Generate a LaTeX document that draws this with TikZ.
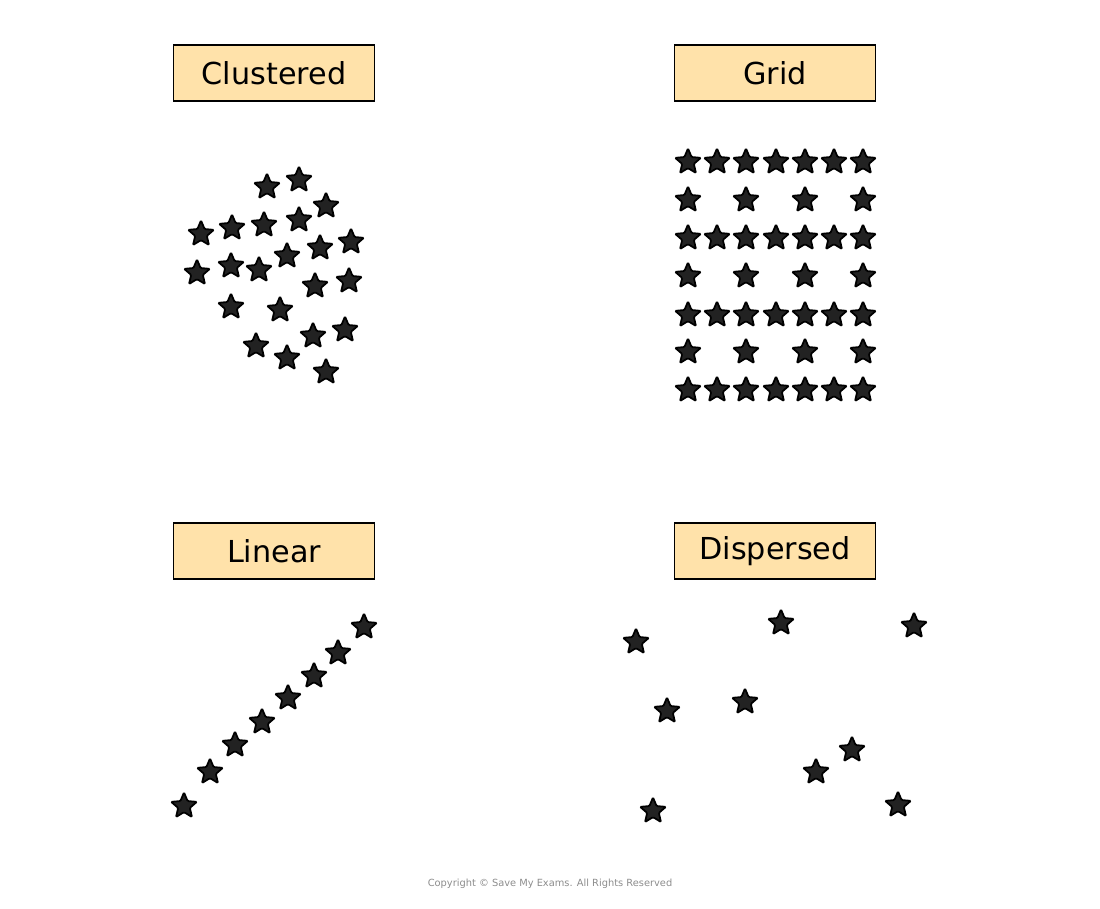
\documentclass[tikz,border=0pt]{standalone}
\usepackage{fontspec}
\setmainfont{DejaVu Sans}
\usetikzlibrary{shapes.geometric}
\definecolor{boxfill}{HTML}{FFE2AA}
\definecolor{starfill}{HTML}{222222}
\tikzset{
  title/.style={draw=black,fill=boxfill,minimum width=2.01cm,minimum height=0.56cm,inner sep=0pt,font=\fontsize{8.6}{10}\selectfont},
  pt/.style={star,star points=5,star point ratio=2.2,minimum size=0.27cm,inner sep=0pt,draw=black,fill=starfill,line width=0.5pt,rounded corners=0.3pt}
}
\begin{document}
\begin{tikzpicture}[x=0.01cm,y=-0.01cm]
  \useasboundingbox (0,0) rectangle (1100,908);
  % titles
  \node[title] (clus) at (274,73) {Clustered};
  \node[title] (grid) at (775,73) {Grid};
  \node[title] (lin) at (274,551) {Linear};
  \node[title] (disp) at (775,551) {Dispersed};
  % clustered
  \foreach \x/\y [count=\i] in {267/187,299/180,326/206,201/234,232/228,264/225,299/220,320/248,351/242,197/273,231/266,259/270,287/256,315/286,349/281,231/307,280/310,256/346,287/358,313/336,345/330,326/372}
    \node[pt] (c\i) at (\x,\y) {};
  % grid
  \foreach \y [count=\r] in {162,238,315,390}
    \foreach \x [count=\c] in {688,717,746,776,805,834,863}
      \node[pt] (g\r-\c) at (\x,\y) {};
  \foreach \y [count=\r] in {200,276,352}
    \foreach \x [count=\c] in {688,746,805,863}
      \node[pt] (h\r-\c) at (\x,\y) {};
  % linear
  \foreach \x/\y [count=\i] in {184/806,210/772,235/745,262/722,288/698,314/676,338/653,364/627}
    \node[pt] (l\i) at (\x,\y) {};
  % dispersed
  \foreach \x/\y [count=\i] in {636/642,781/623,914/626,667/711,745/702,852/750,816/772,653/811,898/805}
    \node[pt] (d\i) at (\x,\y) {};
  \node[text=black!45,font=\fontsize{2.8}{3}\selectfont] (copy) at (550,884) {Copyright © Save My Exams. All Rights Reserved};
\end{tikzpicture}
\end{document}
